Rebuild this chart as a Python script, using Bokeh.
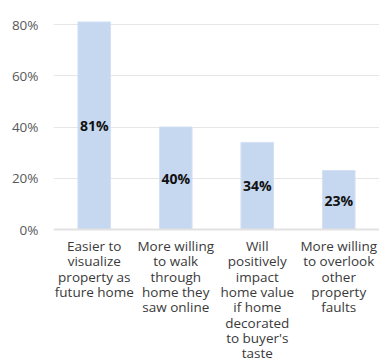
from bokeh.plotting import figure
from bokeh.models import ColumnDataSource, Range1d, NumeralTickFormatter, FixedTicker, LabelSet, Span
from bokeh.core.properties import value
from bokeh.embed import file_html
from bokeh.resources import INLINE

categories = ["Easier to visualize property as future home",
              "More willing to walk through home they saw online",
              "Will positively impact home value if home decorated to buyer's taste",
              "More willing to overlook other property faults"]
tick_labels = ["Easier to\nvisualize\nproperty as\nfuture home",
               "More willing\nto walk\nthrough\nhome they\nsaw online",
               "Will\npositively\nimpact\nhome value\nif home\ndecorated\nto buyer's\ntaste",
               "More willing\nto overlook\nother\nproperty\nfaults"]
values = [0.81, 0.40, 0.34, 0.23]
value_labels = ["81%", "40%", "34%", "23%"]
y_ticks = [0, 0.2, 0.4, 0.6, 0.8]

FONT = "Open Sans"
W, H = 379, 361
GRID_TOP, LEFT = 24, 53   # pixel row of the 80% gridline, frame left
PLOT_H = 205              # pixels from 0% to 80%
px = 0.8 / PLOT_H         # data units per pixel
HEADROOM = 6              # pixels above the 80% line
TOP = GRID_TOP - HEADROOM
y_max = 0.8 + HEADROOM * px
y_min = -(H - GRID_TOP - PLOT_H) * px

src = ColumnDataSource(dict(cat=categories, val=values, mid=[v / 2 for v in values], lab=value_labels))

p = figure(x_range=categories, y_range=Range1d(y_min, y_max), width=W, height=H,
           output_backend="svg", toolbar_location=None,
           min_border_left=LEFT, min_border_right=0, min_border_top=TOP, min_border_bottom=0)
p.outline_line_color = None
p.background_fill_color = "white"
p.border_fill_color = "white"

p.vbar(x="cat", top="val", width=0.4, source=src, fill_color="#c6d7f0", line_color="#d3e0f4", line_width=1)

p.add_layout(Span(location=0, dimension="width", line_color="#e2e2e2", line_width=2))

labels = LabelSet(x="cat", y="mid", text="lab", source=src, text_align="center", text_baseline="middle",
                  text_font=value(FONT), text_font_style="bold", text_font_size="14px", text_color="#111111")
p.add_layout(labels)

# multi-line category labels, one text per line, below the baseline
line_h = 15.3
first_off = 16.5
lx, ly, lt = [], [], []
for cat, lab in zip(categories, tick_labels):
    for i, line in enumerate(lab.split("\n")):
        lx.append(cat)
        ly.append(-(first_off + i * line_h) * px)
        lt.append(line)
cat_src = ColumnDataSource(dict(x=lx, y=ly, t=lt))
p.text(x="x", y="y", text="t", source=cat_src, text_align="center", text_baseline="middle",
       text_font=value(FONT), text_font_size="13.5px", text_color="#3a3a3a")

p.yaxis.ticker = FixedTicker(ticks=y_ticks)
p.yaxis.formatter = NumeralTickFormatter(format="0%")
p.yaxis.axis_line_color = None
p.yaxis.major_tick_line_color = None
p.yaxis.minor_tick_line_color = None
p.yaxis.major_label_text_font = FONT
p.yaxis.major_label_text_font_size = "13.5px"
p.yaxis.major_label_text_color = "#595959"
p.yaxis.major_label_standoff = 9

p.xaxis.visible = False

p.xgrid.grid_line_color = None
p.ygrid.ticker = FixedTicker(ticks=y_ticks)
p.ygrid.grid_line_color = "#e6e6e6"
p.ygrid.grid_line_width = 1

open("out.html", "w").write(file_html(p, INLINE))
